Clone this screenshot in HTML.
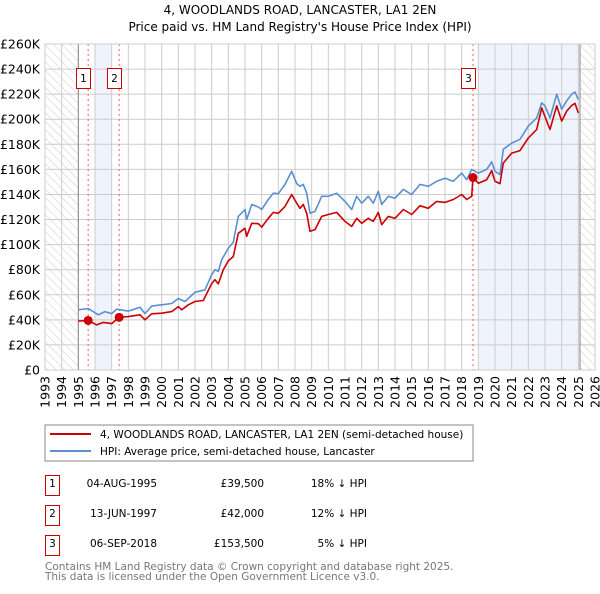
<!DOCTYPE html>
<html><head><meta charset="utf-8"><style>
body{margin:0;background:#fff;font-family:"DejaVu Sans","Liberation Sans",sans-serif;}
svg text{font-family:"DejaVu Sans","Liberation Sans",sans-serif;}
</style></head><body>
<svg id="chart" width="600" height="590" xmlns="http://www.w3.org/2000/svg">
<defs><pattern id="hatch" width="6" height="6" patternUnits="userSpaceOnUse" patternTransform="rotate(-45)"><line x1="0" y1="0" x2="0" y2="6" stroke="#ccc" stroke-width="1"/></pattern></defs>
<text x="300" y="14" text-anchor="middle" font-size="12">4, WOODLANDS ROAD, LANCASTER, LA1 2EN</text>
<text x="300" y="31" text-anchor="middle" font-size="12">Price paid vs. HM Land Registry's House Price Index (HPI)</text>
<g id="plot"></g>
<rect x="45" y="425" width="428" height="36" fill="#fff" stroke="#888"/>
<line x1="50" y1="434" x2="91" y2="434" stroke="#cc0000" stroke-width="2"/>
<text x="100" y="438" font-size="10.5">4, WOODLANDS ROAD, LANCASTER, LA1 2EN (semi-detached house)</text>
<line x1="50" y1="451" x2="91" y2="451" stroke="#5b8fd4" stroke-width="2"/>
<text x="100" y="455" font-size="10.5">HPI: Average price, semi-detached house, Lancaster</text>
<g font-size="10.5">
<rect x="45.5" y="475.5" width="14" height="20" fill="none" stroke="#cc0000"/><text x="52.5" y="487" text-anchor="middle">1</text>
<text x="157" y="487" text-anchor="end">04-AUG-1995</text><text x="264" y="487" text-anchor="end">£39,500</text><text x="367" y="487" text-anchor="end">18% ↓ HPI</text>
<rect x="45.5" y="505.5" width="14" height="20" fill="none" stroke="#cc0000"/><text x="52.5" y="517" text-anchor="middle">2</text>
<text x="157" y="517" text-anchor="end">13-JUN-1997</text><text x="264" y="517" text-anchor="end">£42,000</text><text x="367" y="517" text-anchor="end">12% ↓ HPI</text>
<rect x="45.5" y="535.5" width="14" height="20" fill="none" stroke="#cc0000"/><text x="52.5" y="547" text-anchor="middle">3</text>
<text x="157" y="547" text-anchor="end">06-SEP-2018</text><text x="264" y="547" text-anchor="end">£153,500</text><text x="367" y="547" text-anchor="end">5% ↓ HPI</text>
</g>
<text x="45" y="570" font-size="10.5" fill="#777">Contains HM Land Registry data © Crown copyright and database right 2025.</text>
<text x="45" y="580" font-size="10.5" fill="#777">This data is licensed under the Open Government Licence v3.0.</text>
</svg>
<script>
const hpiYears=[1995,1995.6,1996.2,1996.6,1997,1997.3,1998,1998.7,1999,1999.4,2000,2000.6,2001,2001.4,2002,2002.6,2003,2003.2,2003.4,2003.6,2004,2004.3,2004.6,2005,2005.1,2005.4,2005.8,2006,2006.4,2006.7,2007,2007.4,2007.8,2008.1,2008.3,2008.5,2008.7,2008.9,2009.2,2009.6,2010,2010.5,2011,2011.4,2011.7,2012,2012.4,2012.7,2013,2013.2,2013.6,2014,2014.5,2015,2015.5,2016,2016.5,2017,2017.5,2018,2018.3,2018.6,2019,2019.5,2019.8,2020,2020.3,2020.5,2021,2021.5,2022,2022.5,2022.8,2023,2023.3,2023.7,2024,2024.3,2024.6,2024.8,2025];
const hpiValues=[48,49,44,46.6,45,48.5,47,50,45,51,52,53,57,54.6,62,64,76,80,78.6,88,97,102,122.5,128,120,132,130,128,136,141,140.6,148,158.5,148.7,146.5,148,141,125,126.5,138.5,138.5,141,134.5,128,138.5,133,138.5,133,142.5,132,138.5,137,144,140,148,146.5,150.5,153,150.5,157,151.8,160,157,160,166,158.5,156,176,181,184,194.5,201,213,210.7,201,220,208,214.7,220,221.6,215.8];
const ppYears=[1995,1995.6,1996.1,1996.5,1997,1997.45,1998,1998.7,1999,1999.4,2000,2000.6,2001,2001.2,2001.6,2002,2002.5,2003,2003.2,2003.4,2003.7,2004,2004.3,2004.6,2005,2005.1,2005.4,2005.8,2006,2006.4,2006.7,2007,2007.4,2007.8,2008.1,2008.3,2008.5,2008.7,2008.9,2009.2,2009.6,2010,2010.5,2011,2011.4,2011.7,2012,2012.4,2012.7,2013,2013.2,2013.6,2014,2014.5,2015,2015.5,2016,2016.5,2017,2017.5,2018,2018.3,2018.6,2018.68,2019,2019.5,2019.8,2020,2020.3,2020.5,2021,2021.5,2022,2022.5,2022.8,2023,2023.3,2023.7,2024,2024.3,2024.6,2024.8,2025];
const ppValues=[39,39.5,36,38,37,42,42.6,44,40,44.8,45.3,46.6,50.6,48,52,54.6,55.4,69,72,68.7,80,87,90.5,109,113,106.6,117,116.7,114,121,125.7,125,130.5,140,133,129,132,125,110.6,112,122.5,124,125.7,118.5,114.5,121,117,121,118.5,125.7,116,122.5,121,128,124,131,129,134.5,133.7,136,140,136,138.5,153.5,149,151.8,159,150.5,148.7,165,173,175,185,191.8,209,202,191.8,210.7,198.5,206.5,211,212.6,205];
const saleYears=[1995.59,1997.45,2018.68];
const saleValues=[39.5,42,153.5];
const saleLabels=["1","2","3"];
const yTicks=[0,20,40,60,80,100,120,140,160,180,200,220,240,260];
const xTicks=[];for(let y=1993;y<=2026;y++)xTicks.push(y);

const X0=45,X1=595,Y0=370,Y1=44;
const xs=y=>X0+(y-1993)*(X1-X0)/33;
const ys=v=>Y0-v*(Y0-Y1)/260;
const NS="http://www.w3.org/2000/svg";
const g=document.getElementById('plot');
function mk(t,a){const e=document.createElementNS(NS,t);for(const k in a)e.setAttribute(k,a[k]);g.appendChild(e);return e;}
let e;
e=mk('rect',{x:X0,y:Y1,width:xs(1995)-X0,height:Y0-Y1,fill:'url(#hatch)'});


e=mk('rect',{x:xs(2025.1),y:Y1,width:X1-xs(2025.1),height:Y0-Y1,fill:'url(#hatch)'});


e=mk('rect',{x:xs(1996),y:Y1,width:xs(1997)-xs(1996),height:Y0-Y1,fill:'#eef3fc'});


e=mk('rect',{x:xs(2019),y:Y1,width:xs(2025.1)-xs(2019),height:Y0-Y1,fill:'#eef3fc'});


yTicks.forEach(v=>{
 e=mk('line',{x1:X0,x2:X1,y1:ys(v),y2:ys(v),stroke:'#ccc'});
 
 
 e=mk('text',{x:40,y:ys(v)+4.5,'text-anchor':'end','font-size':'12.5'});e.textContent=v===0?'£0':'£'+v+'K';
 
 
});
xTicks.forEach(y=>{
 e=mk('line',{x1:xs(y),x2:xs(y),y1:Y1,y2:Y0,stroke:'#ccc'});
 
 
 e=mk('text',{x:0,y:0,'font-size':'12.5','text-anchor':'end',transform:`translate(${xs(y)+4.5},376) rotate(-90)`});e.textContent=y;
 
 
});
[1995,2025.1].forEach(y=>{e=mk('line',{x1:xs(y),x2:xs(y),y1:Y1,y2:Y0,stroke:'#888'});
 
 });
saleYears.forEach((y,i)=>{
 e=mk('line',{x1:xs(y),x2:xs(y),y1:Y1,y2:Y0,stroke:'#f06060','stroke-dasharray':'2,3'});
 
 
});
function path(xa,va,col,name){
 const d=xa.map((y,i)=>(i?'L':'M')+xs(y).toFixed(1)+','+ys(va[i]).toFixed(1)).join('');
 e=mk('path',{d:d,fill:'none',stroke:col,'stroke-width':'1.6','stroke-linejoin':'round'});
 
 
}
path(hpiYears,hpiValues,'#5b8fd4','hpi-line');
path(ppYears,ppValues,'#cc0000','price-paid-line');
saleYears.forEach((y,i)=>{
 e=mk('circle',{cx:xs(y),cy:ys(saleValues[i]),r:4.5,fill:'#cc0000'});
 
 
 e=mk('rect',{x:Math.round(xs(y))-11.5,y:68.5,width:14,height:20,fill:'#fff',stroke:'#cc0000'});
 
 
 e=mk('text',{x:Math.round(xs(y))-4.5,y:82,'text-anchor':'middle','font-size':'10.5'});e.textContent=saleLabels[i];
 
 
});
e=mk('rect',{x:X0,y:Y1,width:X1-X0,height:Y0-Y1,fill:'none',stroke:'#ccc'});


</script>
</body></html>
